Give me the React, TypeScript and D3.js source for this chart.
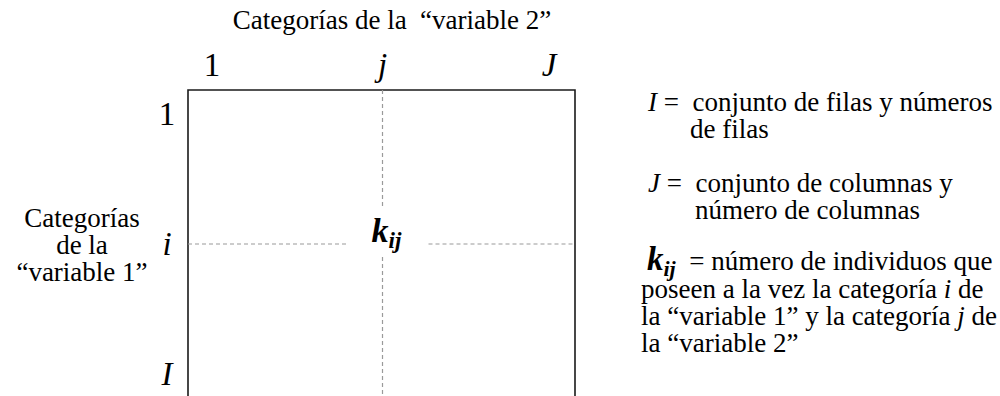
import React from 'react'
import * as d3 from 'd3'

// labels of the contingency table diagram
const title = 'Categorías de la  “variable 2”'
const colLabels = ['1', 'j', 'J']
const rowLabels = ['1', 'i', 'I']
const rowCaption = ['Categorías', 'de la', '“variable 1”']

// legend: [symbol, first line, continuation lines]
const legendI = ['I', '=  conjunto de filas y números', 'de filas']
const legendJ = ['J', '=  conjunto de columnas y', 'número de columnas']
const legendK = ['= número de individuos que']
const legendKLines = ['poseen a la vez la categoría ', 'i', ' de']
const legendKLine2 = ['la “variable 1” y la categoría ', 'j', ' de']
const legendKLine3 = 'la “variable 2”'

const W = 1000
const H = 396
const frame = { left: 188, right: 575, top: 90, bottom: 420 }
const serif = "'Liberation Serif', 'Times New Roman', serif"

const App = () => {
    const x = d3.scalePoint<string>().domain(colLabels).range([212, 549])
    const y = d3.scalePoint<string>().domain(rowLabels).range([114, 374])

    const cx = (frame.left + frame.right) / 2 + 1
    const cy = y('i') as number

    const dash = { stroke: '#9a9a9a', strokeWidth: 1.2, strokeDasharray: '4 3' }

    return (
        <svg width={W} height={H} style={{ position: 'absolute', left: 0, top: 0, background: '#fff' }}>
            <g style={{ fontFamily: serif }} fill='#000'>
                <text x={392} y={29} fontSize={27} textAnchor='middle' style={{ whiteSpace: 'pre' }}>{title}</text>

                {colLabels.map((c, i) => (
                    <text key={c} x={i === 1 ? cx : x(c)} y={76} fontSize={33} textAnchor='middle'
                        fontStyle={i === 0 ? 'normal' : 'italic'}>{c}</text>
                ))}
                {rowLabels.map((r, i) => (
                    <text key={r} x={167} y={(y(r) as number) + 11} fontSize={33} textAnchor='middle'
                        fontStyle={i === 0 ? 'normal' : 'italic'}>{r}</text>
                ))}
                {rowCaption.map((t, i) => (
                    <text key={t} x={82} y={227 + i * 27} fontSize={27} textAnchor='middle'>{t}</text>
                ))}

                <text x={cx - 11} y={cy - 2} fontSize={34} fontWeight='bold' fontStyle='italic'>
                    k<tspan fontSize={23} dy={6}>ij</tspan>
                </text>

                {/* legend */}
                <g fontSize={27}>
                    <text x={648} y={111} style={{ whiteSpace: 'pre' }}>
                        <tspan fontStyle='italic'>{legendI[0]}</tspan>{' ' + legendI[1]}
                    </text>
                    <text x={690} y={138}>{legendI[2]}</text>

                    <text x={648} y={192} style={{ whiteSpace: 'pre' }}>
                        <tspan fontStyle='italic'>{legendJ[0]}</tspan>{' ' + legendJ[1]}
                    </text>
                    <text x={695} y={219}>{legendJ[2]}</text>

                    <text x={647} y={270} style={{ whiteSpace: 'pre' }}>
                        <tspan fontSize={33} fontWeight='bold' fontStyle='italic'>k</tspan>
                        <tspan fontSize={22} fontWeight='bold' fontStyle='italic' dy={6}>ij</tspan>
                        <tspan dy={-6}>{'  ' + legendK[0]}</tspan>
                    </text>
                    <text x={641} y={298} style={{ whiteSpace: 'pre' }}>
                        {legendKLines[0]}<tspan fontStyle='italic'>{legendKLines[1]}</tspan>{legendKLines[2]}
                    </text>
                    <text x={641} y={325} style={{ whiteSpace: 'pre' }}>
                        {legendKLine2[0]}<tspan fontStyle='italic'>{legendKLine2[1]}</tspan>{legendKLine2[2]}
                    </text>
                    <text x={641} y={352}>{legendKLine3}</text>
                </g>
            </g>

            {/* frame, bottom edge runs off the picture */}
            <path d={`M${frame.left},${frame.bottom}V${frame.top}H${frame.right}V${frame.bottom}`}
                fill='none' stroke='#1a1a1a' strokeWidth={1.6} />

            {/* dashed guides with a gap around k_ij */}
            <line x1={cx} x2={cx} y1={frame.top} y2={cy - 37} {...dash} />
            <line x1={cx} x2={cx} y1={cy + 13} y2={frame.bottom} {...dash} />
            <line x1={frame.left} x2={cx - 34} y1={cy} y2={cy} {...dash} />
            <line x1={cx + 46} x2={frame.right} y1={cy} y2={cy} {...dash} />
        </svg>
    )
}

export default App
